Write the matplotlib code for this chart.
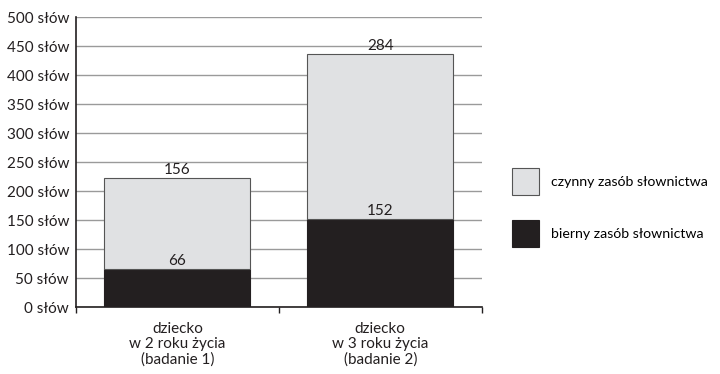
import matplotlib
matplotlib.use("Agg")
import matplotlib.pyplot as plt
import numpy as np

plt.rcParams['font.family'] = ['Lato', 'DejaVu Sans']

categories = ['dziecko\nw 2 roku życia\n(badanie 1)', 'dziecko\nw 3 roku życia\n(badanie 2)']
bierny = [66, 152]
czynny = [156, 284]
yticks = [0, 50, 100, 150, 200, 250, 300, 350, 400, 450, 500]
ytick_labels = [f'{v} słów' for v in yticks]

col_dark = '#231f20'
col_light = '#e0e1e3'
fs = 11

fig = plt.figure(figsize=(7.2, 3.74), dpi=100)
ax = fig.add_axes([0.1056, 0.179, 0.5634, 0.7755])

x = np.arange(len(categories))
w = 0.72
ax.bar(x, bierny, width=w, color=col_dark, edgecolor=col_dark, linewidth=0.8,
       label='bierny zasób słownictwa', zorder=3)
ax.bar(x, czynny, width=w, bottom=bierny, color=col_light, edgecolor='#555555',
       linewidth=0.8, label='czynny zasób słownictwa', zorder=3)

for i in range(len(categories)):
    ax.text(x[i], bierny[i] + 2, str(bierny[i]), ha='center', va='bottom',
            fontsize=fs, color='#231f20', zorder=4)
    ax.text(x[i], bierny[i] + czynny[i] + 2, str(czynny[i]), ha='center', va='bottom',
            fontsize=fs, color='#231f20', zorder=4)

ax.set_xlim(-0.5, 1.5)
ax.set_ylim(0, 500)
ax.set_yticks(yticks)
ax.set_yticklabels(ytick_labels, fontsize=fs, color='#231f20')
ax.set_xticks(x)
ax.set_xticklabels(categories, fontsize=fs, color='#231f20', linespacing=1.1)
ax.set_xticks([-0.5, 0.5, 1.5], minor=True)
ax.tick_params(axis='x', which='major', length=0, pad=11)
ax.tick_params(axis='x', which='minor', length=4, width=1, direction='out', color='#231f20')
ax.tick_params(axis='y', length=0, pad=5)

ax.yaxis.grid(True, color='#9a9a9a', linewidth=1, zorder=0)
ax.set_axisbelow(True)
for s in ['top', 'right']:
    ax.spines[s].set_visible(False)
for s in ['left', 'bottom']:
    ax.spines[s].set_color('#231f20')
    ax.spines[s].set_linewidth(1.2)

handles, labels = ax.get_legend_handles_labels()
leg = ax.legend(handles[::-1], labels[::-1], loc='center left',
                bbox_to_anchor=(1.062, 0.343), frameon=False, fontsize=10.2,
                handlelength=1.85, handleheight=2.5, labelspacing=1.78,
                handletextpad=0.9, borderaxespad=0)

fig.savefig('out.png', dpi=100)
